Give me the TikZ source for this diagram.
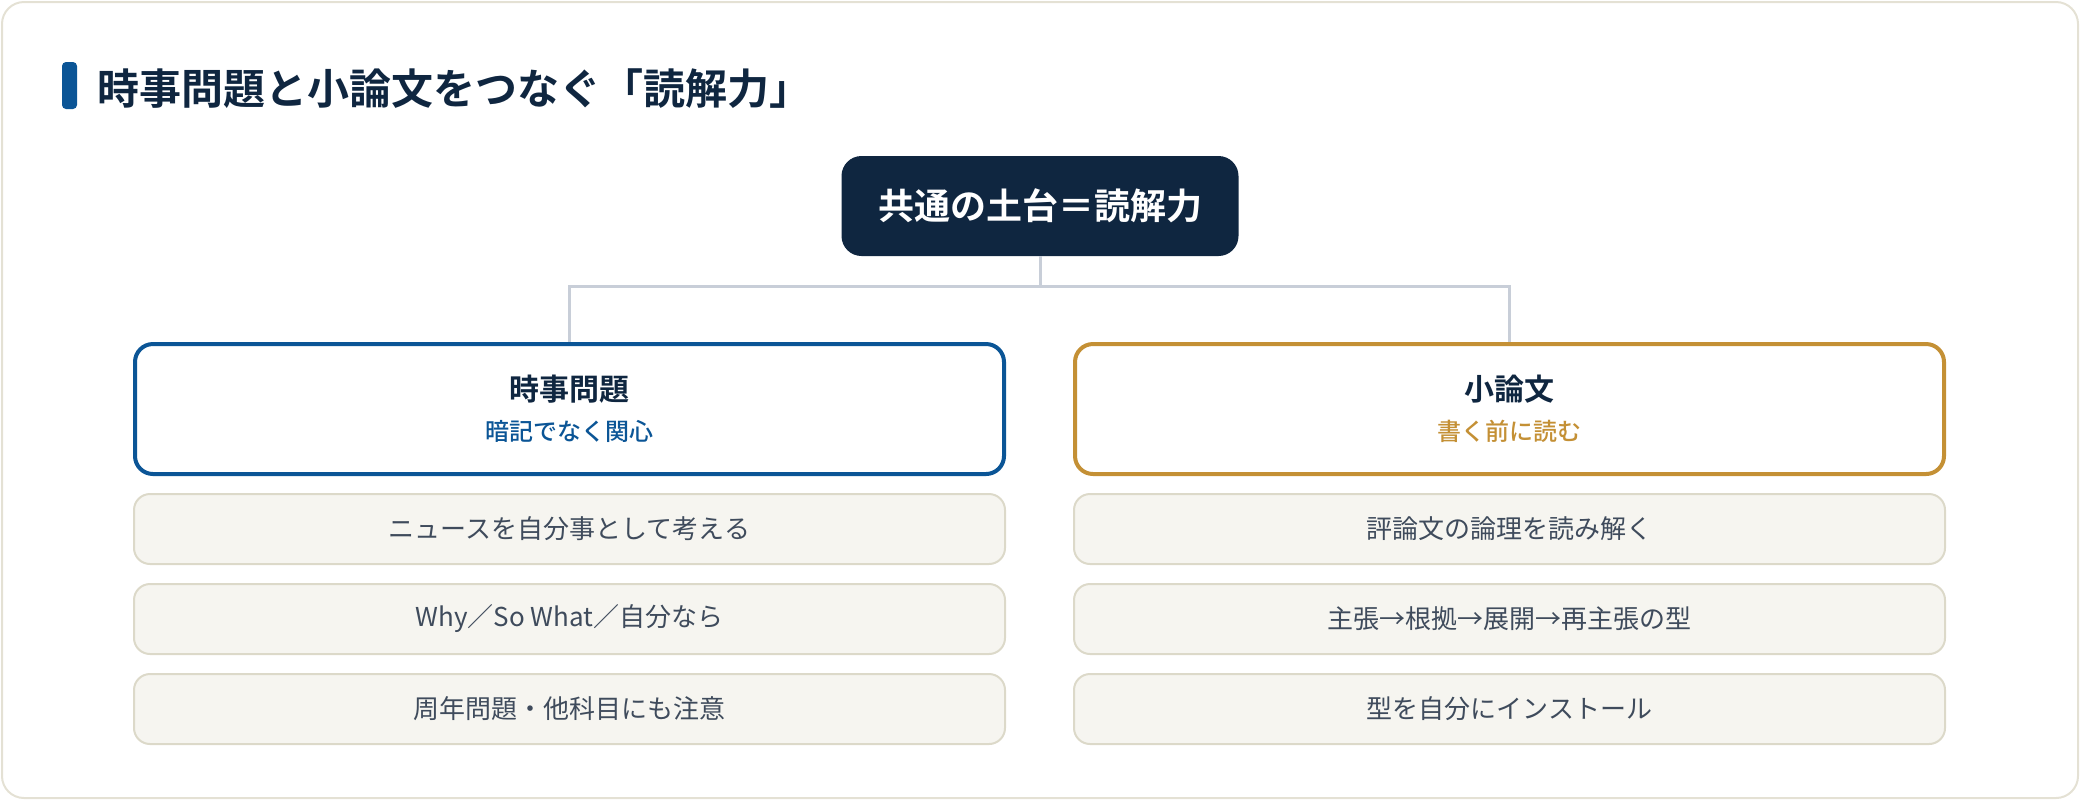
\documentclass[tikz,border=0pt]{standalone}
\usepackage{fontspec}
\setmainfont{Noto Sans CJK JP}[BoldFont={Noto Sans CJK JP Bold}]
\newfontfamily\medfont{Noto Sans CJK JP Medium}
\usepackage{tikz}
\definecolor{navy}{HTML}{0F2640}
\definecolor{newsblue}{HTML}{0B5596}
\definecolor{gold}{HTML}{C49035}
\definecolor{connline}{HTML}{C8CED8}
\definecolor{itemfill}{HTML}{F6F5F0}
\definecolor{itemline}{HTML}{DCD9C9}
\definecolor{itemtext}{HTML}{3F4B5C}
\definecolor{frameline}{HTML}{E4E1D4}

\begin{document}
\begin{tikzpicture}[x=0.5pt,y=-0.5pt,
    basebox/.style={fill=navy, text=white, rounded corners=10pt, minimum width=198.5pt, minimum height=50pt, font=\fontsize{18}{20}\selectfont\bfseries},
    headbox/.style={draw, line width=2pt, fill=white, rounded corners=9pt, minimum width=434.5pt, minimum height=65pt, align=center},
    itembox/.style={draw=itemline, line width=1pt, fill=itemfill, rounded corners=8pt, minimum width=435.5pt, minimum height=35pt, text=itemtext, font=\fontsize{13}{15}\selectfont},
    conn/.style={draw=connline, line width=1.5pt}]
      \useasboundingbox (0,0) rectangle (2080,800);
      \draw[frameline, line width=1pt, rounded corners=11pt] (2,2) rectangle (2078,798);
      \fill[newsblue, rounded corners=2pt] (62,62) rectangle (77,109);
      \node[anchor=west, inner sep=0, text=navy, font=\fontsize{21}{24}\selectfont\bfseries] (title) at (97,89) {時事問題と小論文をつなぐ「読解力」};

      \node[basebox] (base) at (1040,206) {共通の土台＝読解力};

      \node[headbox, draw=newsblue] (news) at (569.5,409) {\fontsize{15}{18}\selectfont\bfseries\color{navy}時事問題\\[8pt]\fontsize{12}{14}\medfont\color{newsblue}暗記でなく関心};
      \node[headbox, draw=gold] (essay) at (1509.5,409) {\fontsize{15}{18}\selectfont\bfseries\color{navy}小論文\\[8pt]\fontsize{12}{14}\medfont\color{gold}書く前に読む};

      \coordinate (split) at (1040,286);
      \draw[conn] (base.south) -- (split) -| (news.north);
      \draw[conn] (split) -| (essay.north);

      \node[itembox] (news1) at (569.5,529) {ニュースを自分事として考える};
      \node[itembox] (news2) at (569.5,619) {Why／So What／自分なら};
      \node[itembox] (news3) at (569.5,709) {周年問題・他科目にも注意};

      \node[itembox] (essay1) at (1509.5,529) {評論文の論理を読み解く};
      \node[itembox] (essay2) at (1509.5,619) {主張→根拠→展開→再主張の型};
      \node[itembox] (essay3) at (1509.5,709) {型を自分にインストール};
    \end{tikzpicture}
\end{document}
